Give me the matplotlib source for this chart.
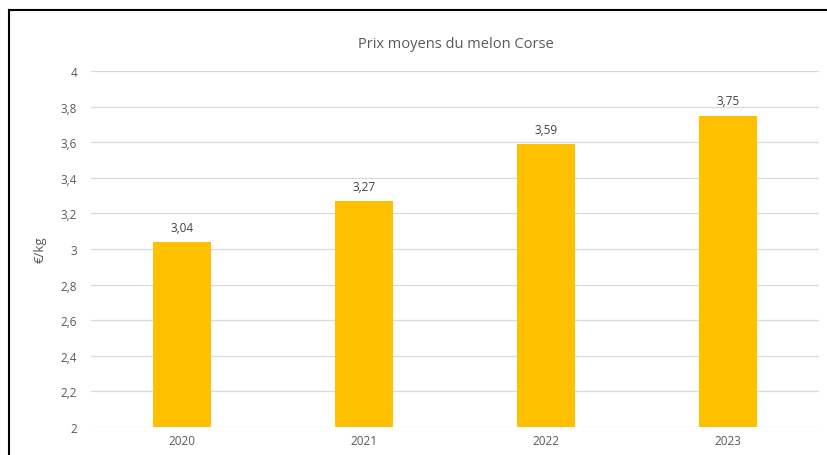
import matplotlib
matplotlib.use("Agg")
import matplotlib.pyplot as plt
from matplotlib.ticker import FuncFormatter
from matplotlib.lines import Line2D

# donnees
annees = ["2020", "2021", "2022", "2023"]
prix = [3.04, 3.27, 3.59, 3.75]
graduations = [2, 2.2, 2.4, 2.6, 2.8, 3, 3.2, 3.4, 3.6, 3.8, 4]

plt.rcParams['font.family'] = ['Open Sans', 'DejaVu Sans']

fig = plt.figure(figsize=(8.28, 4.56), dpi=100)
ax = fig.add_axes([0.110, 0.0614, 0.879, 0.7807])

x = range(len(annees))
barres = ax.bar(x, prix, width=0.32, color="#FFC000", zorder=3)

ax.set_ylim(2, 4)
ax.set_xlim(-0.5, len(annees) - 0.5)
ax.set_yticks(graduations)
ax.yaxis.set_major_formatter(FuncFormatter(lambda v, p: ("%g" % v).replace(".", ",")))
ax.set_xticks(list(x))
ax.set_xticklabels(annees)
ax.tick_params(axis="both", length=0, labelsize=8.5, colors="#595959")
ax.tick_params(axis="y", pad=10)
ax.tick_params(axis="x", pad=5)
ax.grid(axis="y", color="#d9d9d9", linewidth=0.9, zorder=0)
for s in ax.spines.values():
    s.set_visible(False)

for b, v in zip(barres, prix):
    ax.annotate(("%.2f" % v).replace(".", ","), (b.get_x() + b.get_width() / 2, v),
                xytext=(0, 6), textcoords="offset points", ha="center", va="bottom",
                fontsize=8.5, color="#404040")

ax.set_ylabel("€/kg", fontsize=9.5, color="#595959", labelpad=10)
fig.text(0.55, 0.903, "Prix moyens du melon Corse", ha="center", va="center",
         fontsize=10.5, color="#595959")

# cadre noir haut et gauche
fig.add_artist(Line2D([9 / 828, 9 / 828], [0, 1 - 11 / 456], color="black", linewidth=1.5))
fig.add_artist(Line2D([9 / 828, 1], [1 - 11 / 456, 1 - 11 / 456], color="black", linewidth=1.5))

fig.savefig("out.png", dpi=100)
